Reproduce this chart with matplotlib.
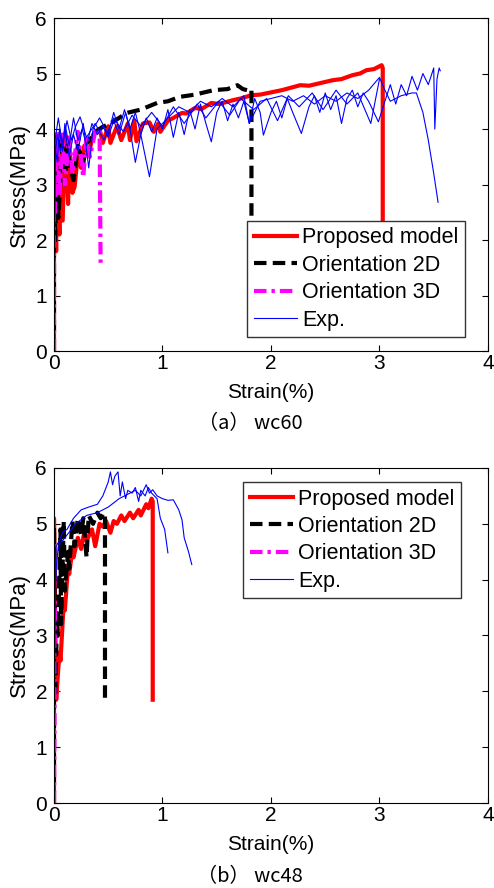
import matplotlib.pyplot as plt

# ---- data: wc60 (top panel) ----
wc60_model_x = [0, 0, 0.02, 0.03, 0.05, 0.06, 0.08, 0.10, 0.13, 0.14, 0.17, 0.19, 0.22, 0.25,
                0.28, 0.32, 0.36, 0.42, 0.45, 0.50, 0.52, 0.58, 0.62, 0.68, 0.70, 0.74, 0.76,
                0.82, 0.88, 0.92, 0.96, 0.98, 1.05, 1.10, 1.18, 1.22, 1.30, 1.36, 1.45, 1.52,
                1.65, 1.72, 1.82, 1.90, 2.00, 2.10, 2.27, 2.35, 2.57, 2.65, 2.75, 2.82, 2.88,
                2.95, 3.02, 3.03, 3.03]
wc60_model_y = [0, 3.84, 1.80, 3.90, 2.10, 3.85, 2.35, 3.90, 2.65, 3.70, 2.85, 2.96, 3.55, 3.30,
                3.70, 3.55, 3.90, 4.00, 3.75, 4.05, 3.75, 4.05, 3.80, 4.10, 3.80, 4.15, 3.78,
                4.10, 4.12, 3.95, 4.10, 3.95, 4.15, 4.20, 4.29, 4.28, 4.38, 4.36, 4.47, 4.45,
                4.52, 4.55, 4.61, 4.62, 4.66, 4.70, 4.79, 4.78, 4.88, 4.90, 4.97, 5.00, 5.06,
                5.08, 5.15, 5.10, 1.50]

wc60_2d_x = [0, 0, 0.01, 0.03, 0.04, 0.055, 0.07, 0.10, 0.12, 0.15, 0.18, 0.22, 0.27, 0.30,
             0.33, 0.38, 0.45, 0.52, 0.60, 0.67, 0.80, 0.95, 1.05, 1.16, 1.30, 1.47, 1.60,
             1.69, 1.74, 1.78, 1.82, 1.82]
wc60_2d_y = [0, 3.85, 1.96, 3.80, 2.40, 2.90, 3.85, 3.00, 3.70, 3.30, 3.08, 3.70, 3.39, 3.75,
             3.80, 3.95, 4.04, 4.10, 4.20, 4.29, 4.35, 4.47, 4.50, 4.58, 4.62, 4.70, 4.72,
             4.79, 4.72, 4.70, 4.72, 1.50]

wc60_3d_x = [0, 0, 0.01, 0.03, 0.05, 0.08, 0.10, 0.14, 0.17, 0.22, 0.27, 0.30, 0.33, 0.38,
             0.42, 0.43]
wc60_3d_y = [0, 3.90, 2.50, 3.95, 2.80, 3.90, 3.00, 3.85, 3.20, 3.95, 3.13, 3.90, 3.50, 3.95,
             4.00, 1.52]

wc60_exp1_x = [0, 0.005, 0.01, 0.03, 0.05, 0.08, 0.10, 0.14, 0.18, 0.22, 0.26, 0.30, 0.35, 0.40,
               0.45, 0.50, 0.55, 0.60, 0.66, 0.70, 0.75, 0.80, 0.85, 0.90, 0.95, 1.00, 1.05,
               1.10, 1.15, 1.20, 1.25, 1.30, 1.35, 1.40, 1.45, 1.50, 1.55, 1.60, 1.65, 1.70,
               1.75, 1.80, 1.85, 1.90, 1.93, 2.00, 2.05, 2.10, 2.15, 2.20, 2.28, 2.35, 2.40,
               2.45, 2.50, 2.55, 2.60, 2.65, 2.70, 2.75, 2.80, 2.85, 2.90, 2.99, 3.05, 3.10,
               3.15, 3.20, 3.25, 3.30, 3.35, 3.40, 3.45, 3.50, 3.51, 3.53, 3.55, 3.56]
wc60_exp1_y = [0, 3.00, 3.70, 3.40, 4.00, 3.60, 4.10, 3.70, 4.20, 3.80, 4.00, 3.70, 4.10, 3.90,
               4.05, 3.85, 4.15, 3.90, 4.30, 4.00, 3.40, 3.90, 4.20, 3.95, 4.20, 4.00, 4.35,
               3.85, 4.30, 3.90, 4.35, 4.00, 4.45, 4.10, 3.77, 4.30, 4.50, 4.15, 4.45, 4.20,
               4.50, 4.10, 4.55, 4.30, 3.89, 4.30, 4.50, 4.20, 4.55, 4.30, 3.92, 4.40, 4.60,
               4.30, 4.65, 4.35, 4.60, 4.10, 4.55, 4.70, 4.40, 4.65, 4.50, 4.13, 4.50, 4.80,
               4.45, 4.80, 4.60, 4.95, 4.70, 5.00, 4.80, 5.10, 4.00, 4.90, 5.10, 5.05]

wc60_exp2_x = [0, 0.01, 0.03, 0.06, 0.10, 0.14, 0.18, 0.22, 0.27, 0.32, 0.36, 0.42, 0.50, 0.55,
               0.60, 0.65, 0.70, 0.75, 0.80, 0.88, 0.95, 1.05, 1.15, 1.25, 1.35, 1.45, 1.55,
               1.65, 1.75, 1.80, 1.90, 2.00, 2.10, 2.20, 2.30, 2.40, 2.50, 2.60, 2.70, 2.80,
               2.90, 3.00, 3.05, 3.10, 3.20, 3.30, 3.34, 3.40, 3.45, 3.50, 3.54]
wc60_exp2_y = [0, 3.50, 3.90, 3.60, 4.00, 3.50, 3.90, 3.60, 4.10, 3.30, 4.00, 4.20, 3.90, 4.30,
               4.00, 4.35, 4.00, 4.30, 3.90, 3.14, 4.00, 4.20, 4.40, 4.30, 4.50, 4.40, 4.55,
               4.40, 4.60, 4.10, 4.50, 4.55, 4.60, 4.50, 4.60, 4.45, 4.60, 4.50, 4.65, 4.55,
               4.70, 4.93, 4.70, 4.50, 4.60, 4.65, 4.65, 4.30, 3.80, 3.20, 2.68]

wc60_exp3_x = [0, 0.01, 0.04, 0.08, 0.12, 0.16, 0.20, 0.24, 0.30, 0.38, 0.46, 0.55, 0.64, 0.72,
               0.80, 0.90, 1.00, 1.10, 1.20, 1.32, 1.40, 1.52, 1.62, 1.72, 1.84, 1.96, 2.06,
               2.16, 2.26, 2.38, 2.48, 2.60, 2.70, 2.80, 2.92, 3.00]
wc60_exp3_y = [0, 3.80, 4.20, 3.70, 4.15, 3.80, 4.05, 4.22, 3.85, 4.10, 3.80, 4.20, 3.95, 4.25,
               4.05, 4.30, 4.05, 4.40, 4.10, 4.45, 4.20, 4.50, 4.25, 4.55, 4.35, 4.55, 4.15,
               4.60, 4.40, 4.65, 4.35, 4.70, 4.45, 4.65, 4.10, 4.90]

# ---- data: wc48 (bottom panel) ----
wc48_model_x = [0, 0, 0.02, 0.05, 0.06, 0.09, 0.10, 0.13, 0.14, 0.17, 0.18, 0.22, 0.25, 0.28,
                0.30, 0.35, 0.38, 0.42, 0.45, 0.48, 0.52, 0.55, 0.58, 0.62, 0.65, 0.70, 0.73,
                0.78, 0.80, 0.85, 0.87, 0.90, 0.91, 0.91]
wc48_model_y = [0, 5.10, 1.85, 2.70, 2.55, 3.60, 3.45, 4.25, 4.10, 4.55, 4.40, 4.75, 4.55, 4.85,
                4.70, 4.90, 4.60, 5.00, 4.95, 5.05, 4.84, 5.05, 5.00, 5.15, 5.05, 5.20, 5.10,
                5.25, 5.15, 5.35, 5.28, 5.45, 5.40, 1.85]

wc48_2d_x = [0, 0, 0.01, 0.03, 0.035, 0.06, 0.065, 0.09, 0.10, 0.13, 0.14, 0.17, 0.19, 0.22,
             0.25, 0.27, 0.30, 0.32, 0.36, 0.40, 0.43, 0.46, 0.47, 0.47]
wc48_2d_y = [0, 4.95, 1.90, 3.40, 3.00, 4.90, 3.20, 5.05, 3.80, 4.50, 4.20, 5.05, 4.60, 5.10,
             4.80, 5.10, 4.40, 5.15, 5.00, 5.20, 5.10, 5.20, 5.15, 1.85]

wc48_3d_x = [0, 0.005, 0.003, 0.006, 0.004]
wc48_3d_y = [0, 1.50, 3.00, 3.60, 2.90]

wc48_exp1_x = [0, 0.005, 0.01, 0.02, 0.05, 0.08, 0.12, 0.18, 0.25, 0.32, 0.40, 0.45, 0.50, 0.52,
               0.54, 0.56, 0.59, 0.61, 0.63, 0.66, 0.68, 0.72, 0.75, 0.78, 0.80, 0.84, 0.87,
               0.90, 0.95, 0.98, 1.02, 1.05]
wc48_exp1_y = [0, 3.00, 4.00, 4.60, 4.70, 4.85, 4.90, 5.10, 5.25, 5.30, 5.35, 5.50, 5.75, 5.93,
               5.70, 5.85, 5.93, 5.50, 5.75, 5.45, 5.60, 5.55, 5.65, 5.40, 5.60, 5.50, 5.65,
               5.55, 5.45, 5.10, 4.90, 4.48]

wc48_exp2_x = [0, 0.01, 0.02, 0.04, 0.08, 0.12, 0.20, 0.30, 0.40, 0.50, 0.60, 0.70, 0.75, 0.80,
               0.85, 0.88, 0.91, 0.95, 1.00, 1.05, 1.10, 1.15, 1.18, 1.20, 1.24, 1.27]
wc48_exp2_y = [0, 3.50, 4.20, 4.60, 4.70, 4.80, 5.00, 5.15, 5.20, 5.30, 5.45, 5.55, 5.60, 5.50,
               5.70, 5.55, 5.61, 5.50, 5.45, 5.42, 5.43, 5.25, 5.07, 4.75, 4.50, 4.27]

labels = ['Proposed model', 'Orientation 2D', 'Orientation 3D', 'Exp.']

plt.rcParams['font.family'] = ['Liberation Sans', 'DejaVu Sans']

fig = plt.figure(figsize=(4.94, 8.88), dpi=100)
ax1 = fig.add_axes([0.1093, 0.6047, 0.8785, 0.375])
ax2 = fig.add_axes([0.1093, 0.0957, 0.8785, 0.3773])


def draw_panel(ax, model, d2, d3, exps):
    h1, = ax.plot(model[0], model[1], color='red', lw=3)
    h2, = ax.plot(d2[0], d2[1], color='black', lw=3, linestyle=(0, (3, 1.5)))
    h3, = ax.plot(d3[0], d3[1], color='magenta', lw=3, linestyle=(0, (3, 1.2, 0.8, 1.2)))
    h4 = None
    for ex in exps:
        h4, = ax.plot(ex[0], ex[1], color='blue', lw=0.8)
    ax.set_xlim(0, 4)
    ax.set_ylim(0, 6)
    ax.set_xticks([0, 1, 2, 3, 4])
    ax.set_yticks([0, 1, 2, 3, 4, 5, 6])
    ax.tick_params(direction='in', top=True, right=True, length=4, labelsize=15)
    ax.tick_params(axis='y', pad=5)
    ax.tick_params(axis='x', pad=2)
    ax.set_xlabel('Strain(%)', fontsize=15, va='center')
    ax.set_ylabel('Stress(MPa)', fontsize=16, va='center')
    ax.xaxis.set_label_coords(0.5, -0.124)
    ax.yaxis.set_label_coords(-0.080, 0.5)
    for s in ax.spines.values():
        s.set_linewidth(0.8)
    return [h1, h2, h3, h4]


hs = draw_panel(ax1, (wc60_model_x, wc60_model_y), (wc60_2d_x, wc60_2d_y),
                (wc60_3d_x, wc60_3d_y),
                [(wc60_exp1_x, wc60_exp1_y), (wc60_exp2_x, wc60_exp2_y), (wc60_exp3_x, wc60_exp3_y)])
leg = ax1.legend(hs, labels, loc='lower right', bbox_to_anchor=(0.947, 0.042), fontsize=15.5,
                 frameon=True, fancybox=False, edgecolor='#333333', framealpha=1,
                 handlelength=2.0, handletextpad=0.25, labelspacing=0.3, borderpad=0.3,
                 borderaxespad=0)

hs = draw_panel(ax2, (wc48_model_x, wc48_model_y), (wc48_2d_x, wc48_2d_y),
                (wc48_3d_x, wc48_3d_y),
                [(wc48_exp1_x, wc48_exp1_y), (wc48_exp2_x, wc48_exp2_y)])
leg = ax2.legend(hs, labels, loc='upper right', bbox_to_anchor=(0.938, 0.958), fontsize=15.5,
                 frameon=True, fancybox=False, edgecolor='#333333', framealpha=1,
                 handlelength=2.0, handletextpad=0.25, labelspacing=0.3, borderpad=0.3,
                 borderaxespad=0)

fig.text(0.506, 1 - 424 / 888, '（a） wc60', ha='center', va='center', fontsize=14.5,
         family=['Noto Sans CJK KR', 'DejaVu Sans'])
fig.text(0.506, 1 - 877 / 888, '（b） wc48', ha='center', va='center', fontsize=14.5,
         family=['Noto Sans CJK KR', 'DejaVu Sans'])

fig.savefig('out.png', dpi=100)
